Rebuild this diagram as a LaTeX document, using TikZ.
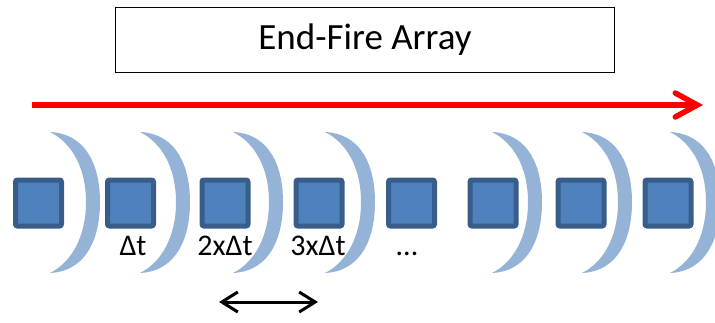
\documentclass[tikz,border=0pt]{standalone}
\usepackage{fontspec}
\setmainfont{Carlito}
\definecolor{ElemBlue}{HTML}{4F81BD}
\definecolor{ElemEdge}{HTML}{385D8A}
\definecolor{WaveBlue}{HTML}{95B3D7}
\usetikzlibrary{arrows.meta}

\begin{document}
\begin{tikzpicture}[x=1pt, y=-1pt,
  elem/.style={draw=ElemEdge, fill=ElemBlue, line width=5pt,
               rounded corners=2pt, minimum size=46pt, inner sep=0pt},
  delay/.style={font=\fontsize{30}{32}\selectfont, anchor=base},
  wave/.style={fill=WaveBlue}]
  \useasboundingbox (0,0) rectangle (715,322);
  \node[draw, line width=1.3pt, minimum width=499pt, minimum height=65pt,
        font=\fontsize{37}{42}\selectfont] (title) at (365,40) {End-Fire Array};
  % beam direction
  \coordinate (beamS) at (32,105);
  \coordinate (beamE) at (703,105);
  \draw[red, line width=5.5pt,
        -{Straight Barb[length=22pt, width=24pt, line cap=round]}] (beamS) -- (beamE);
  % wavefronts
  \foreach \x in {50,140,233,325,492,582,670}
    \fill[wave] (\x,132) .. controls (\x+38,134) and (\x+50,168) .. (\x+50,202)
      .. controls (\x+50,236) and (\x+38,271) .. (\x,273)
      .. controls (\x+22,262) and (\x+36,236) .. (\x+36,202)
      .. controls (\x+36,168) and (\x+22,143) .. (\x,132) -- cycle;
  % elements
  \node[elem] (e1) at (38.5,203) {};
  \node[elem] (e2) at (130.5,203) {};
  \node[elem] (e3) at (225,203) {};
  \node[elem] (e4) at (319,203) {};
  \node[elem] (e5) at (411.5,203) {};
  \node[elem] (e6) at (493,203) {};
  \node[elem] (e7) at (581,203) {};
  \node[elem] (e8) at (668,203) {};
  \node[delay] (d2) at (133,255) {Δt};
  \node[delay] (d3) at (225,255) {2xΔt};
  \node[delay] (d4) at (318,255) {3xΔt};
  \node[delay] (d5) at (407,255) {...};
  % spacing
  \coordinate (spanL) at (219,302);
  \coordinate (spanR) at (318,302);
  \draw[line width=3pt, {Straight Barb[length=16pt, width=20pt]}-{Straight Barb[length=16pt, width=20pt]}]
    (spanL) -- (spanR);
\end{tikzpicture}
\end{document}
